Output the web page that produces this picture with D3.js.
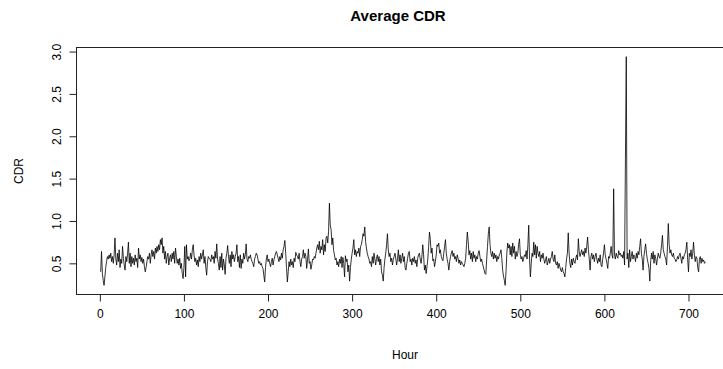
<!DOCTYPE html>
<html lang="en">
<head>
<meta charset="UTF-8">
<title>Average CDR</title>
<script src="https://d3js.org/d3.v7.min.js"></script>
<style>
    body { margin: 0; background: #fff; }
    svg text { font-family: "Liberation Sans", Arial, Helvetica, sans-serif; fill: #000; }
</style>
</head>
<body>
<div id="chart"></div>
<script>
    // hourly average CDR, hour 1..720
    const cdr = [
        0.40, 0.64, 0.38, 0.30, 0.24, 0.34, 0.45, 0.52, 0.58, 0.55,
        0.60, 0.56, 0.62, 0.52, 0.58, 0.50, 0.60, 0.80, 0.55, 0.48,
        0.62, 0.52, 0.66, 0.45, 0.55, 0.50, 0.70, 0.56, 0.48, 0.42,
        0.58, 0.52, 0.62, 0.75, 0.50, 0.62, 0.46, 0.58, 0.50, 0.56,
        0.48, 0.60, 0.52, 0.56, 0.45, 0.68, 0.55, 0.60, 0.52, 0.57,
        0.50, 0.55, 0.46, 0.40, 0.45, 0.52, 0.58, 0.55, 0.62, 0.50,
        0.60, 0.66, 0.58, 0.64, 0.55, 0.68, 0.62, 0.70, 0.64, 0.72,
        0.66, 0.78, 0.72, 0.80, 0.62, 0.70, 0.55, 0.64, 0.50, 0.58,
        0.62, 0.48, 0.56, 0.60, 0.52, 0.62, 0.55, 0.64, 0.50, 0.68,
        0.58, 0.50, 0.55, 0.48, 0.56, 0.44, 0.50, 0.38, 0.32, 0.45,
        0.70, 0.34, 0.72, 0.55, 0.58, 0.53, 0.56, 0.62, 0.55, 0.66,
        0.72, 0.60, 0.52, 0.56, 0.48, 0.54, 0.46, 0.58, 0.52, 0.62,
        0.55, 0.60, 0.66, 0.50, 0.58, 0.45, 0.36, 0.52, 0.58, 0.56,
        0.55, 0.52, 0.60, 0.55, 0.58, 0.50, 0.64, 0.56, 0.73, 0.55,
        0.50, 0.42, 0.58, 0.45, 0.62, 0.42, 0.55, 0.48, 0.37, 0.56,
        0.62, 0.71, 0.58, 0.50, 0.60, 0.46, 0.64, 0.55, 0.60, 0.52,
        0.58, 0.62, 0.72, 0.52, 0.58, 0.45, 0.60, 0.44, 0.55, 0.50,
        0.62, 0.55, 0.60, 0.73, 0.55, 0.52, 0.58, 0.56, 0.60, 0.55,
        0.52, 0.50, 0.46, 0.55, 0.58, 0.62, 0.60, 0.55, 0.50, 0.52,
        0.48, 0.50, 0.46, 0.44, 0.36, 0.28, 0.45, 0.55, 0.60, 0.52,
        0.55, 0.50, 0.46, 0.52, 0.56, 0.48, 0.54, 0.58, 0.62, 0.64,
        0.60, 0.56, 0.52, 0.58, 0.54, 0.62, 0.56, 0.66, 0.70, 0.77,
        0.62, 0.45, 0.28, 0.40, 0.52, 0.46, 0.55, 0.48, 0.52, 0.45,
        0.56, 0.52, 0.63, 0.60, 0.58, 0.55, 0.62, 0.52, 0.46, 0.55,
        0.58, 0.66, 0.56, 0.62, 0.58, 0.44, 0.55, 0.67, 0.50, 0.52,
        0.43, 0.48, 0.55, 0.54, 0.58, 0.56, 0.62, 0.68, 0.72, 0.66,
        0.76, 0.62, 0.70, 0.66, 0.78, 0.60, 0.72, 0.64, 0.80, 0.82,
        0.74, 0.88, 1.21, 0.95, 0.90, 0.72, 0.80, 0.65, 0.60, 0.54,
        0.56, 0.48, 0.52, 0.46, 0.55, 0.50, 0.58, 0.45, 0.57, 0.50,
        0.34, 0.59, 0.52, 0.55, 0.40, 0.48, 0.29, 0.45, 0.55, 0.62,
        0.68, 0.78, 0.60, 0.66, 0.58, 0.64, 0.62, 0.68, 0.58, 0.70,
        0.72, 0.78, 0.85, 0.82, 0.93, 0.76, 0.68, 0.62, 0.58, 0.55,
        0.50, 0.52, 0.46, 0.58, 0.50, 0.62, 0.55, 0.48, 0.56, 0.60,
        0.52, 0.58, 0.48, 0.55, 0.40, 0.36, 0.29, 0.45, 0.55, 0.62,
        0.72, 0.85, 0.66, 0.58, 0.62, 0.52, 0.56, 0.48, 0.55, 0.58,
        0.62, 0.55, 0.48, 0.56, 0.66, 0.52, 0.60, 0.50, 0.56, 0.62,
        0.52, 0.58, 0.45, 0.42, 0.50, 0.56, 0.62, 0.64, 0.52, 0.55,
        0.48, 0.56, 0.52, 0.58, 0.50, 0.54, 0.46, 0.56, 0.60, 0.62,
        0.55, 0.50, 0.58, 0.72, 0.60, 0.42, 0.48, 0.38, 0.46, 0.55,
        0.70, 0.87, 0.78, 0.62, 0.68, 0.53, 0.55, 0.46, 0.52, 0.60,
        0.72, 0.70, 0.74, 0.62, 0.66, 0.58, 0.55, 0.53, 0.62, 0.70,
        0.78, 0.62, 0.55, 0.50, 0.42, 0.52, 0.58, 0.62, 0.65, 0.58,
        0.62, 0.55, 0.58, 0.52, 0.60, 0.56, 0.50, 0.54, 0.48, 0.52,
        0.50, 0.48, 0.46, 0.50, 0.56, 0.72, 0.87, 0.76, 0.60, 0.65,
        0.55, 0.62, 0.52, 0.64, 0.56, 0.60, 0.52, 0.58, 0.55, 0.62,
        0.65, 0.58, 0.52, 0.55, 0.50, 0.46, 0.42, 0.38, 0.37, 0.55,
        0.70, 0.85, 0.93, 0.72, 0.62, 0.58, 0.64, 0.55, 0.62, 0.56,
        0.60, 0.52, 0.58, 0.55, 0.60, 0.62, 0.66, 0.56, 0.42, 0.35,
        0.30, 0.24, 0.40, 0.62, 0.74, 0.68, 0.72, 0.60, 0.70, 0.58,
        0.74, 0.62, 0.70, 0.55, 0.64, 0.58, 0.62, 0.72, 0.79, 0.60,
        0.55, 0.58, 0.52, 0.56, 0.60, 0.58, 0.65, 0.55, 0.72, 0.95,
        0.55, 0.34, 0.50, 0.62, 0.58, 0.75, 0.60, 0.72, 0.56, 0.70,
        0.62, 0.58, 0.64, 0.52, 0.60, 0.56, 0.62, 0.55, 0.50, 0.54,
        0.58, 0.48, 0.52, 0.56, 0.50, 0.55, 0.58, 0.64, 0.55, 0.52,
        0.60, 0.50, 0.48, 0.52, 0.44, 0.50, 0.46, 0.42, 0.40, 0.45,
        0.40, 0.38, 0.34, 0.45, 0.55, 0.62, 0.86, 0.62, 0.50, 0.45,
        0.55, 0.48, 0.56, 0.52, 0.50, 0.56, 0.60, 0.54, 0.79, 0.64,
        0.58, 0.62, 0.66, 0.60, 0.64, 0.58, 0.68, 0.62, 0.70, 0.81,
        0.66, 0.55, 0.42, 0.58, 0.62, 0.55, 0.60, 0.52, 0.58, 0.62,
        0.55, 0.50, 0.56, 0.52, 0.60, 0.48, 0.46, 0.55, 0.62, 0.72,
        0.60, 0.55, 0.50, 0.44, 0.58, 0.56, 0.62, 0.70, 0.60, 0.56,
        1.38, 0.60, 0.55, 0.62, 0.58, 0.56, 0.65, 0.60, 0.62, 0.58,
        0.60, 0.56, 0.64, 0.48, 1.73, 2.94, 0.55, 0.62, 0.45, 0.66,
        0.52, 0.58, 0.64, 0.55, 0.60, 0.58, 0.52, 0.62, 0.56, 0.64,
        0.60, 0.70, 0.79, 0.62, 0.55, 0.42, 0.58, 0.66, 0.73, 0.62,
        0.55, 0.50, 0.44, 0.29, 0.52, 0.62, 0.55, 0.64, 0.50, 0.60,
        0.56, 0.48, 0.55, 0.62, 0.58, 0.56, 0.62, 0.72, 0.83, 0.66,
        0.62, 0.58, 0.55, 0.48, 0.70, 0.97, 0.72, 0.62, 0.66, 0.60,
        0.58, 0.62, 0.56, 0.55, 0.52, 0.54, 0.58, 0.55, 0.60, 0.62,
        0.56, 0.50, 0.58, 0.55, 0.60, 0.62, 0.66, 0.75, 0.55, 0.40,
        0.62, 0.58, 0.66, 0.55, 0.62, 0.75, 0.60, 0.52, 0.58, 0.56,
        0.45, 0.40, 0.55, 0.58, 0.50, 0.56, 0.52, 0.54, 0.50, 0.52
    ];
    const xTicks = [0, 100, 200, 300, 400, 500, 600, 700];
    const yTicks = [0.5, 1.0, 1.5, 2.0, 2.5, 3.0];
    const title = "Average CDR";
    const xLabel = "Hour";
    const yLabel = "CDR";

    let width = 723, height = 369;
    let plotLeft = 76.5, plotRight = 729.5, plotTop = 47.5, plotBottom = 294.5;
    let hours = cdr.map((d, i) => i + 1);

    // R pads the data range by 4% on each side
    function pad(ext) {
        let p = (ext[1] - ext[0]) * 0.04;
        return [ext[0] - p, ext[1] + p];
    }

    let x = d3.scaleLinear().domain(pad(d3.extent(hours))).range([plotLeft, plotRight]);
    let y = d3.scaleLinear().domain(pad(d3.extent(cdr))).range([plotBottom, plotTop]);

    let svg = d3.select("#chart").append("svg")
        .attr("width", width).attr("height", height);

    // data line
    let line = d3.line().x((d, i) => x(hours[i])).y(d => y(d));
    svg.append("path")
        .datum(cdr)
        .attr("d", line)
        .attr("fill", "none")
        .attr("stroke", "#000")
        .attr("stroke-width", 0.8);

    // plot box
    svg.append("rect")
        .attr("x", plotLeft).attr("y", plotTop)
        .attr("width", plotRight - plotLeft).attr("height", plotBottom - plotTop)
        .attr("fill", "none").attr("stroke", "#222").attr("stroke-width", 1);

    let xAxis = svg.append("g")
        .attr("transform", "translate(0," + plotBottom + ")")
        .call(d3.axisBottom(x).tickValues(xTicks).tickSize(7).tickPadding(16).tickFormat(d3.format("d")));
    xAxis.select(".domain").remove();
    xAxis.selectAll(".tick line").attr("stroke", "#222");
    xAxis.selectAll("text").attr("font-size", 12).attr("dy", 0).attr("fill", "#000");

    let yAxis = svg.append("g")
        .attr("transform", "translate(" + plotLeft + ",0)")
        .call(d3.axisLeft(y).tickValues(yTicks).tickSize(7).tickFormat(d3.format(".1f")));
    yAxis.select(".domain").remove();
    yAxis.selectAll(".tick line").attr("stroke", "#222");
    yAxis.selectAll("text")
        .attr("font-size", 12)
        .attr("x", 0).attr("dy", 0)
        .attr("text-anchor", "middle")
        .attr("fill", "#000")
        .attr("transform", "translate(-16,0) rotate(-90)");

    svg.append("text")
        .attr("x", 398).attr("y", 21)
        .attr("text-anchor", "middle")
        .attr("font-size", 15)
        .attr("font-weight", "bold")
        .text(title);

    svg.append("text")
        .attr("x", 405).attr("y", 359)
        .attr("text-anchor", "middle")
        .attr("font-size", 12)
        .text(xLabel);

    svg.append("text")
        .attr("transform", "translate(23," + ((plotTop + plotBottom) / 2) + ") rotate(-90)")
        .attr("text-anchor", "middle")
        .attr("font-size", 12)
        .text(yLabel);
</script>
</body>
</html>
